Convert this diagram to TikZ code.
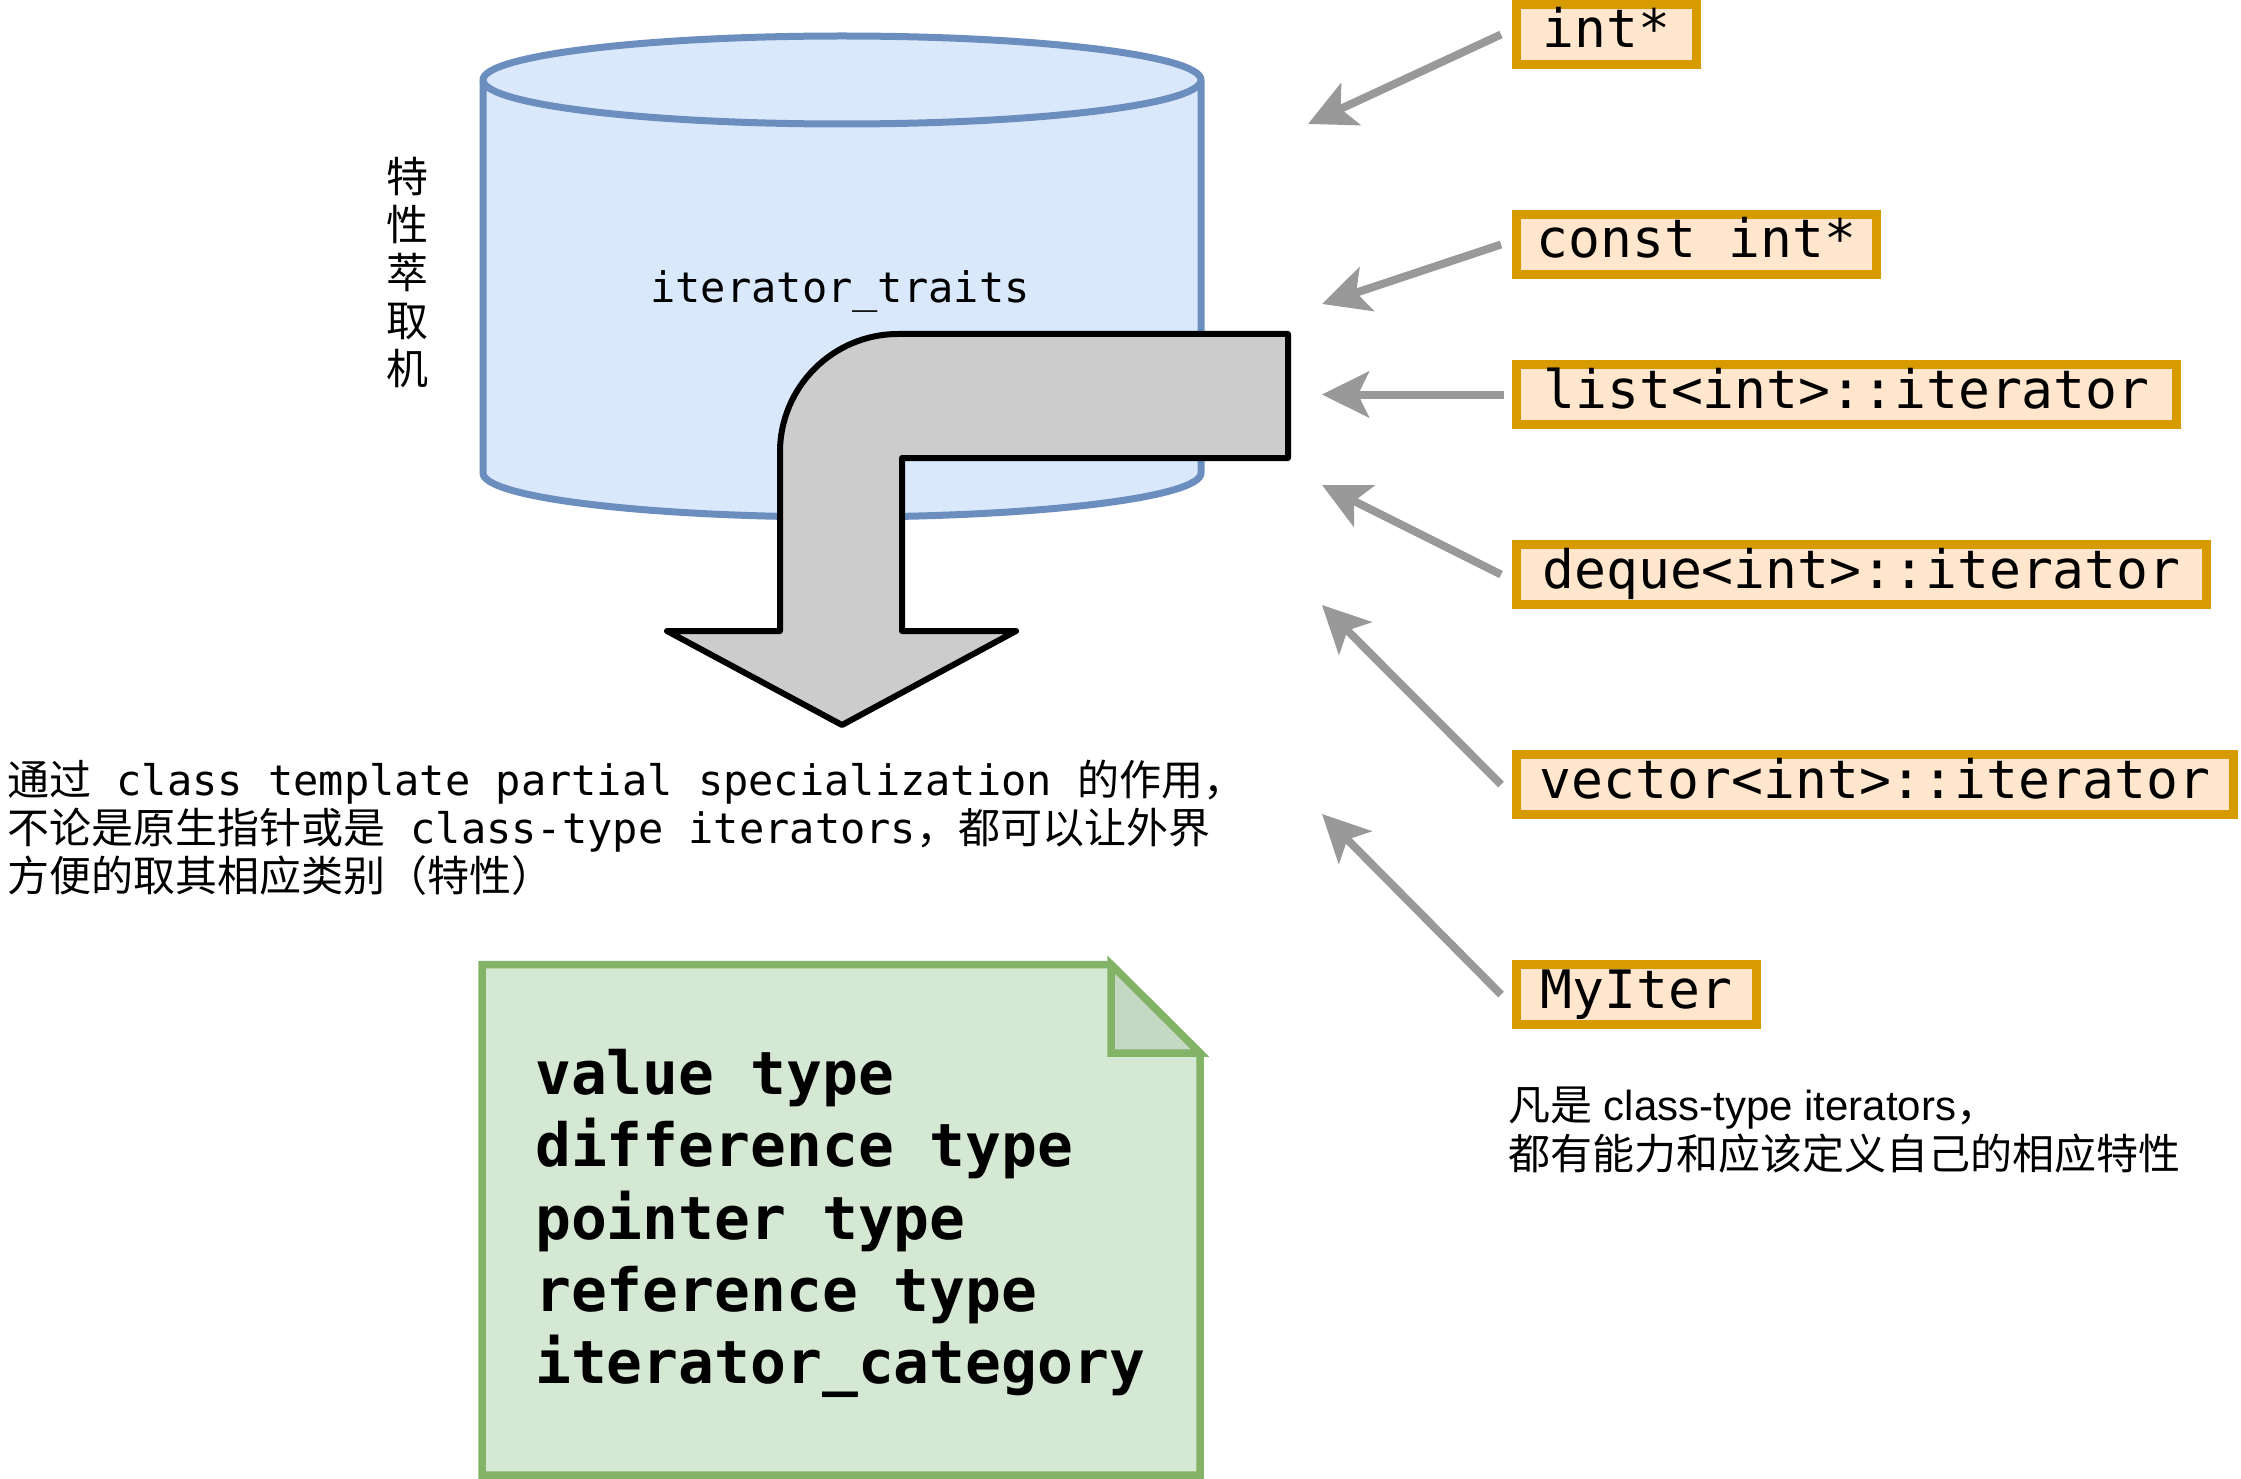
\documentclass[tikz,border=0pt]{standalone}
\usepackage{fontspec}
\setmonofont{DejaVu Sans Mono}
\setsansfont{Liberation Sans}
\newfontfamily\cjk{Noto Sans CJK SC}
\usetikzlibrary{arrows.meta}
\definecolor{cylfill}{HTML}{DAE8FC}
\definecolor{cylline}{HTML}{6C8EBF}
\definecolor{ofill}{HTML}{FFE6CC}
\definecolor{oline}{HTML}{D79B00}
\definecolor{notefill}{HTML}{D5E8D4}
\definecolor{noteline}{HTML}{82B366}
\definecolor{notefold}{HTML}{C4D8C3}
\definecolor{bentfill}{HTML}{CCCCCC}
\definecolor{feedgray}{HTML}{999999}
\newcommand\zh[1]{{\cjk #1}}
\begin{document}
\begin{tikzpicture}[x=1pt,y=-1pt,
  obox/.style={draw=oline, fill=ofill, line width=9pt, minimum height=60pt, inner sep=0pt,
    font=\fontsize{53}{60}\selectfont\ttfamily, text height=40pt, text depth=13pt},
  feed/.style={draw=feedgray, line width=8pt, -{Stealth[length=47pt,width=46pt,inset=11pt]}},
  cyl/.style={draw=cylline, fill=cylfill, line width=7pt},
  bentarrow/.style={draw=black, fill=bentfill, line width=6pt, line join=round},
  notebox/.style={draw=noteline, fill=notefill, line width=7.5pt, line join=miter}]
\useasboundingbox (0,0) rectangle (2241,1479);

% cylinder
\draw[cyl] (483,80) -- (483,473) arc[start angle=180,end angle=0,x radius=359,y radius=44]
  -- (1201,80) arc[start angle=0,end angle=-180,x radius=359,y radius=44] -- cycle;
\draw[cyl, fill=none] (483,80) arc[start angle=180,end angle=0,x radius=359,y radius=44];
\node[font=\fontsize{42}{48}\selectfont\ttfamily, anchor=base, inner sep=0pt] (cyltxt) at (840,303) {iterator\_traits};

% vertical label
\node[font=\fontsize{42}{48}\selectfont\cjk, align=center, inner sep=0pt] (vlabel) at (407,272.5) {特\\性\\萃\\取\\机};

% bent arrow
\draw[bentarrow] (1288,334) -- (1288,458) -- (902,458) -- (902,631) -- (1016,631) -- (842,725)
  -- (667,631) -- (780,631) -- (780,452) .. controls (780,387) and (833,334) .. (898,334) -- cycle;

% type boxes
\node[obox, minimum width=180pt] (intp) at (1606.5,34.5) {int*};
\node[obox, minimum width=360pt] (cintp) at (1696.5,244.5) {const int*};
\node[obox, minimum width=660pt] (listit) at (1846.5,394.5) {list<int>::iterator};
\node[obox, minimum width=690pt] (dequeit) at (1861.5,574.5) {deque<int>::iterator};
\node[obox, minimum width=717pt] (vecit) at (1875,784.5) {vector<int>::iterator};
\node[obox, minimum width=240pt] (myit) at (1636.5,994.5) {MyIter};

% arrow targets
\coordinate (t1) at (1308,124);
\coordinate (t2) at (1322,304);
\coordinate (t3) at (1322,394.5);
\coordinate (t4) at (1322,485);
\coordinate (t5) at (1322,605);
\coordinate (t6) at (1322,814);
\draw[feed] ([xshift=-11pt]intp.west) -- (t1);
\draw[feed] ([xshift=-11pt]cintp.west) -- (t2);
\draw[feed] ([xshift=-8pt]listit.west) -- (t3);
\draw[feed] ([xshift=-11pt]dequeit.west) -- (t4);
\draw[feed] ([xshift=-11pt]vecit.west) -- (t5);
\draw[feed] ([xshift=-11pt]myit.west) -- (t6);

% left description
\node[anchor=north west, inner sep=0pt, align=left, font=\fontsize{42}{48}\selectfont\ttfamily] (desc) at (7,760)
  {\zh{通过} class template partial specialization \zh{的作用，}\\
   \zh{不论是原生指针或是} class-type iterators\zh{，都可以让外界}\\
   \zh{方便的取其相应类别（特性）}};

% right description
\node[anchor=north west, inner sep=0pt, align=left, font=\fontsize{42}{48.5}\selectfont\sffamily] (rdesc) at (1508,1087)
  {\zh{凡是} class-type iterators\zh{，}\\
   \zh{都有能力和应该定义自己的相应特性}};

% note
\draw[notebox] (482,964.5) -- (1111,964.5) -- (1200,1053) -- (1200,1475) -- (482,1475) -- cycle;
\draw[notebox, fill=notefold] (1111,964.5) -- (1111,1053) -- (1200,1053) -- cycle;
\node[anchor=north west, inner sep=0pt, align=left, font=\fontsize{59.6}{72.3}\selectfont\ttfamily\bfseries] (notetxt) at (535,1049)
  {value type\\difference type\\pointer type\\reference type\\iterator\_category};
\end{tikzpicture}
\end{document}
